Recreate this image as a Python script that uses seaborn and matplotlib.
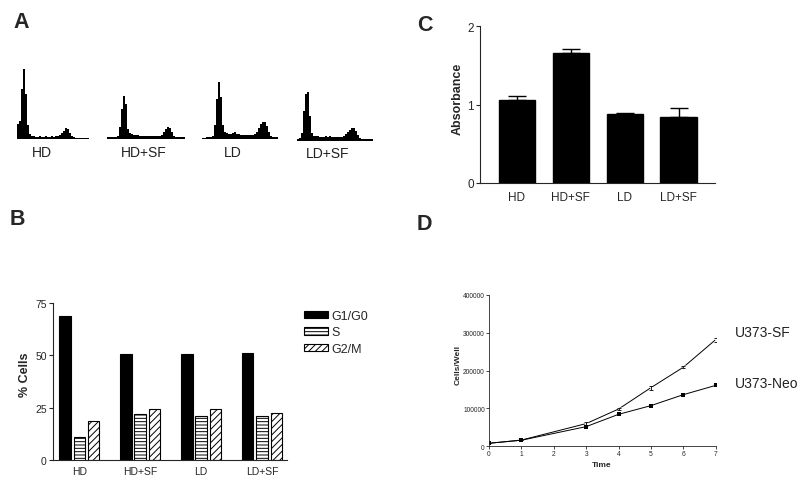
import numpy as np
import pandas as pd
import matplotlib
matplotlib.use("Agg")
import matplotlib.pyplot as plt
import seaborn as sns

# ---------------- DATA ----------------
conditions = ["HD", "HD+SF", "LD", "LD+SF"]

# A: DNA content histograms (bin heights)
hist_hd = [15, 18, 50, 70, 45, 14, 5, 3, 3, 2.5, 2.5, 3, 2.5, 2.5, 3, 2.5, 2.5, 3,
           2.5, 3, 3, 4, 6, 8, 11, 10, 6, 3, 2, 1.5, 1.5, 1.5, 1.5, 1.5, 1.5, 1.5]
hist_hdsf = [2, 2, 2, 2, 2.5, 3.5, 12, 30, 43, 35, 10, 6, 5, 4.5, 4.5, 4, 3.5, 3.5,
             3.5, 3.5, 3.5, 3, 3, 3.5, 3.5, 3.5, 3.5, 4.5, 7, 10, 12, 11, 7, 3.5, 2, 2,
             2, 2, 2]
hist_ld = [1.5, 1.5, 2, 2, 2.5, 3.5, 14, 40, 57, 42, 14, 7, 6, 5, 5, 6, 7, 5, 5, 4.5,
           4.5, 4.5, 4.5, 4.5, 4, 4.5, 5, 7, 11, 15, 17, 17, 13, 7, 3.5, 2, 2, 2]
hist_ldsf = [2, 2.5, 8, 30, 47, 49, 25, 8, 5, 4.5, 4.5, 4, 4, 4, 4.5, 4, 4.5, 4,
             3.5, 3.5, 3.5, 3.5, 4, 5, 7, 9, 11, 13, 13, 10, 6, 2.5, 2, 1.5, 1.5, 1.5,
             1.5, 1.5]

# B: cell cycle distribution (% cells)
phases = ["G1/G0", "S", "G2/M"]
g1_pct = [68.6, 50.6, 50.6, 51.3]
s_pct = [11.1, 21.8, 21.0, 21.0]
g2_pct = [18.5, 24.5, 24.5, 22.3]

# C: absorbance
absorbance = [1.06, 1.66, 0.88, 0.845]
absorbance_err = [0.05, 0.05, 0.017, 0.115]

# D: growth curves
days = [0, 1, 3, 4, 5, 6, 7]
sf_cells = [8000, 16500, 60000, 98500, 155000, 209000, 282000]
sf_err = [0, 0, 3000, 2000, 5000, 3000, 5000]
neo_cells = [8000, 16000, 52000, 84500, 107500, 136500, 161000]

# ---------------- STYLE ----------------
sns.set_style("ticks")
plt.rcParams["font.family"] = ["Liberation Sans", "DejaVu Sans"]
plt.rcParams["hatch.linewidth"] = 0.7
plt.rcParams["axes.linewidth"] = 0.8

W, H = 800, 485
fig = plt.figure(figsize=(W / 100, H / 100), dpi=100)


def px_axes(left, top, right, bottom):
    return fig.add_axes([left / W, 1 - bottom / H, (right - left) / W, (bottom - top) / H])


def panel_label(x, y, s):
    fig.text(x / W, 1 - y / H, s, fontsize=15.5, fontweight="bold", va="baseline")


# ---------------- A: histograms ----------------
hists = [hist_hd, hist_hdsf, hist_ld, hist_ldsf]
hist_pos = [(17, 140), (107, 140.3), (202, 140.3), (297, 141.7)]
label_pos = [(42, 153), (144, 153), (233, 153), (328, 154.5)]
for vals, (x0, base), (lx, ly), name in zip(hists, hist_pos, label_pos, conditions):
    n = len(vals)
    ax = px_axes(x0, base - 75, x0 + 2 * n, base)
    sns.histplot(x=np.arange(n), weights=vals, discrete=True, element="step",
                 fill=True, color="black", alpha=1, linewidth=0, ax=ax)
    ax.set_xlim(-0.5, n - 0.5)
    ax.set_ylim(0, 75)
    ax.axis("off")
    fig.text(lx / W, 1 - ly / H, name, fontsize=10, color="#222",
             ha="center", va="center")
panel_label(13, 28, "A")

# ---------------- B: cell cycle bars ----------------
dfb = pd.DataFrame({
    "cond": conditions * 3,
    "phase": [p for p in phases for _ in conditions],
    "pct": g1_pct + s_pct + g2_pct,
})
axb = px_axes(53, 304, 287, 461)
sns.barplot(data=dfb, x="cond", y="pct", hue="phase", hue_order=phases,
            palette=["black", "white", "white"], saturation=1, width=0.7, gap=0.2,
            edgecolor="black", linewidth=0.8, ax=axb)
for cont, hatch in zip(axb.containers, ["", "-----", "/////"]):
    for bar in cont:
        bar.set_hatch(hatch)
axb.get_legend().remove()
handles = [c.patches[0] for c in axb.containers]
axb.legend(handles, phases, loc="upper left", bbox_to_anchor=(304 / W, 1 - 311 / H),
           bbox_transform=fig.transFigure, frameon=False, fontsize=9,
           handlelength=1.9, handleheight=0.55, handletextpad=0.3,
           labelspacing=0.35, borderpad=0, borderaxespad=0)
axb.set_xlim(-0.43, 3.41)
axb.set_ylim(0, 75)
axb.set_yticks([0, 25, 50, 75])
axb.tick_params(axis="x", length=0, pad=4, labelsize=7.5)
axb.tick_params(axis="y", length=3, width=0.8, pad=1.5, labelsize=7.5)
axb.set_xlabel("")
axb.set_ylabel("% Cells", fontsize=9, fontweight="bold")
axb.yaxis.set_label_coords(-0.095, 0.548)
sns.despine(ax=axb)
panel_label(10, 225, "B")

# ---------------- C: absorbance ----------------
axc = px_axes(480, 27.3, 715, 183.7)
sns.barplot(x=conditions, y=absorbance, color="black", saturation=1, width=0.68,
            edgecolor="black", ax=axc)
axc.errorbar(range(len(conditions)), absorbance,
             yerr=[np.zeros(len(absorbance)), absorbance_err],
             fmt="none", ecolor="black", elinewidth=1, capsize=6.5, capthick=1)
axc.set_xlim(-0.685, 3.67)
axc.set_ylim(0, 2)
axc.set_yticks([0, 1, 2])
axc.tick_params(axis="x", length=0, pad=6, labelsize=8.5)
axc.tick_params(axis="y", length=3, width=0.8, pad=1.5, labelsize=8.5)
axc.set_ylabel("Absorbance", fontsize=9, fontweight="bold")
axc.yaxis.set_label_coords(-0.07, 0.54)
sns.despine(ax=axc)
panel_label(417, 31, "C")

# ---------------- D: growth curves ----------------
axd = px_axes(489, 296, 715.7, 447.3)
sns.lineplot(x=days, y=sf_cells, color="black", marker="x", linewidth=0.7,
             markersize=3, markeredgewidth=0.7, ax=axd)
sns.lineplot(x=days, y=neo_cells, color="black", marker="s", linewidth=0.7,
             markersize=3, markeredgewidth=0, ax=axd)
axd.errorbar(days, sf_cells, yerr=sf_err, fmt="none", ecolor="black",
             elinewidth=0.6, capsize=1.2, capthick=0.6)
axd.set_xlim(0, 7)
axd.set_ylim(0, 400000)
axd.set_xticks(range(8))
axd.set_yticks([0, 100000, 200000, 300000, 400000])
axd.ticklabel_format(axis="y", style="plain")
axd.tick_params(length=2, width=0.6, pad=1, labelsize=4.8)
axd.set_xlabel("Time", fontsize=6, fontweight="bold")
axd.set_ylabel("Cells/Well", fontsize=6, fontweight="bold")
axd.xaxis.set_label_coords(0.498, -0.1)
axd.yaxis.set_label_coords(-0.12, 0.544)
for s in ["left", "bottom"]:
    axd.spines[s].set_linewidth(0.6)
sns.despine(ax=axd)
fig.text(735 / W, 1 - 333 / H, "U373-SF", fontsize=10, color="#222", va="center")
fig.text(735 / W, 1 - 384 / H, "U373-Neo", fontsize=10, color="#222", va="center")
panel_label(417, 230, "D")

fig.savefig("out.png", dpi=100)
